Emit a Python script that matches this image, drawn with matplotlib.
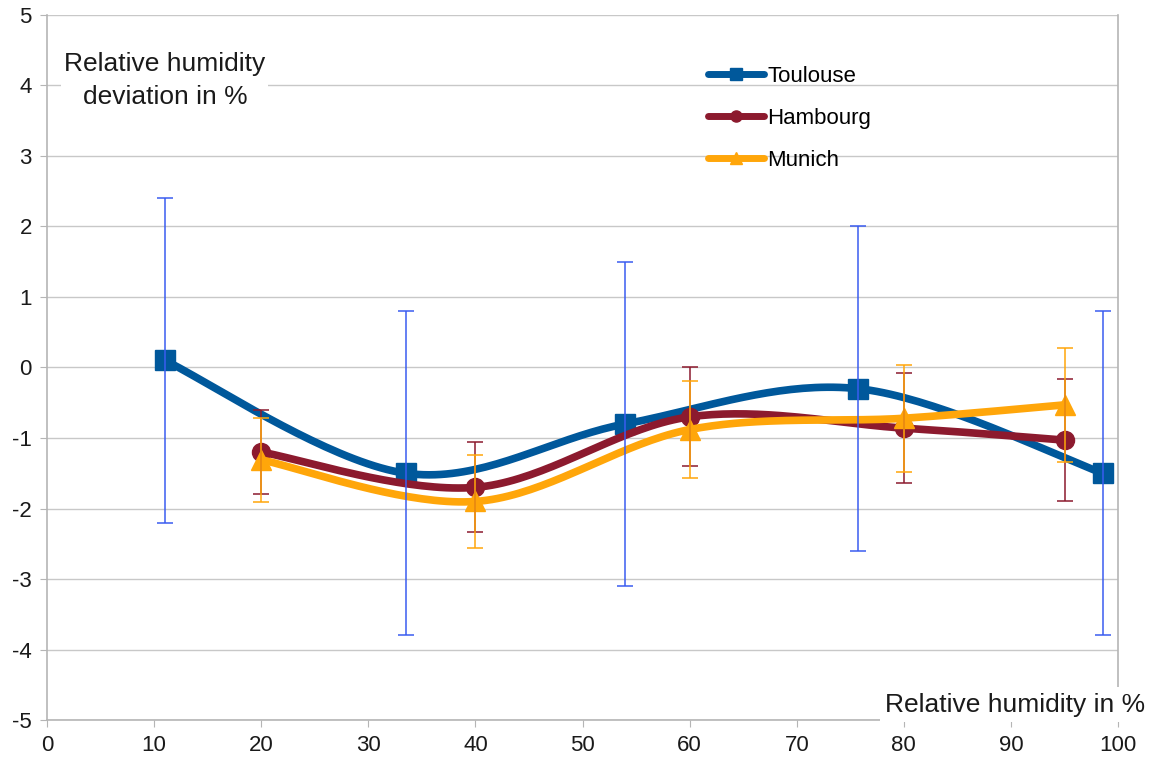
import numpy as np
import matplotlib
matplotlib.use('Agg')
import matplotlib.pyplot as plt
from matplotlib.lines import Line2D

plt.rcParams['font.family'] = ['Liberation Sans', 'DejaVu Sans']
plt.rcParams['axes.unicode_minus'] = False

# Data
toulouse_x = [11, 33.5, 54, 75.7, 98.6]
toulouse_y = [0.1, -1.5, -0.8, -0.3, -1.5]
toulouse_err = [2.3, 2.3, 2.3, 2.3, 2.3]

hambourg_x = [20, 40, 60, 80, 95]
hambourg_y = [-1.2, -1.7, -0.7, -0.86, -1.03]
hambourg_err = [0.6, 0.64, 0.7, 0.78, 0.86]

munich_x = [20, 40, 60, 80, 95]
munich_y = [-1.31, -1.9, -0.88, -0.72, -0.53]
munich_err = [0.6, 0.66, 0.69, 0.76, 0.81]

x_ticks = list(range(0, 101, 10))
y_ticks = list(range(-5, 6))


def smooth(x, y, n=40):
    # Excel-like smoothed line (Bezier through the points)
    p = np.column_stack([x, y]).astype(float)
    out = []
    for i in range(len(p) - 1):
        p0 = p[i - 1] if i > 0 else p[i]
        p1, p2 = p[i], p[i + 1]
        p3 = p[i + 2] if i + 2 < len(p) else p[i + 1]
        c1 = p1 + (p2 - p0) / 6
        c2 = p2 - (p3 - p1) / 6
        t = np.linspace(0, 1, n)[:, None]
        seg = ((1 - t) ** 3) * p1 + 3 * ((1 - t) ** 2) * t * c1 + 3 * (1 - t) * t ** 2 * c2 + t ** 3 * p2
        out.append(seg)
    s = np.vstack(out)
    return s[:, 0], s[:, 1]


fig = plt.figure(figsize=(11.53, 7.6), dpi=100)
ax = fig.add_axes([0.0408, 0.0526, 0.9289, 0.9277])

series = [
    ('Toulouse', toulouse_x, toulouse_y, toulouse_err, '#00589b', '#3a5cf0', 's', 14),
    ('Hambourg', hambourg_x, hambourg_y, hambourg_err, '#8c1a2e', '#8c1a2e', 'o', 13),
    ('Munich', munich_x, munich_y, munich_err, '#ffa60a', '#ffa60a', '^', 14),
]

handles = []
for k, (name, xs, ys, err, col, ecol, mk, ms) in enumerate(series):
    sx, sy = smooth(xs, ys)
    ax.plot(sx, sy, color=col, lw=5.5, solid_capstyle='round', zorder=3 + k)
    ax.plot(xs, ys, ls='none', marker=mk, ms=ms, color=col, zorder=3 + k)
    ax.errorbar(xs, ys, yerr=err, fmt='none', ecolor=ecol, elinewidth=1.1,
                capsize=6, capthick=1.1, zorder=6 + k)
    handles.append(Line2D([], [], color=col, lw=5, marker=mk, ms=8,
                          solid_capstyle='round', label=name))

ax.set_xlim(0, 100)
ax.set_ylim(-5, 5)
ax.set_xticks(x_ticks)
ax.set_yticks(y_ticks)
ax.grid(axis='y', color='#c8c8c8', lw=1)
ax.set_axisbelow(True)
for s in ax.spines.values():
    s.set_color('#b5b5b5')
    s.set_linewidth(1.2)
ax.spines['top'].set_visible(False)
ax.tick_params(axis='both', direction='out', length=5, color='#b5b5b5',
               labelsize=16, labelcolor='#1a1a1a', pad=6)

leg = ax.legend(handles=handles, loc='upper left', bbox_to_anchor=(0.609, 0.94),
                frameon=False, fontsize=16, handlelength=2.5, handletextpad=0.15,
                labelspacing=0.94, borderaxespad=0)

ax.text(0.110, 0.907, 'Relative humidity\ndeviation in %', transform=ax.transAxes,
        ha='center', va='center', fontsize=19, color='#1a1a1a', linespacing=1.45,
        bbox=dict(facecolor='white', edgecolor='none', pad=2), zorder=10)
ax.text(0.904, 0.022, 'Relative humidity in %', transform=ax.transAxes,
        ha='center', va='center', fontsize=19, color='#1a1a1a', clip_on=False,
        bbox=dict(facecolor='white', edgecolor='none', pad=4), zorder=10)

fig.savefig('out.png', dpi=100)
